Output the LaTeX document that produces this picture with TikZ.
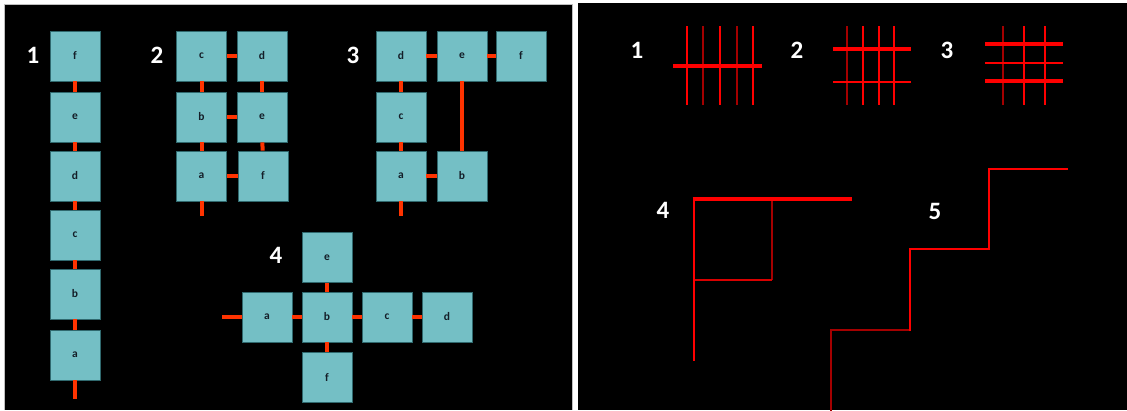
\documentclass[tikz,border=0pt]{standalone}
\usepackage{fontspec}
\setmainfont{Carlito}
\definecolor{tilefill}{RGB}{116,191,197}
\definecolor{tileedge}{RGB}{48,105,110}
\definecolor{tiletext}{RGB}{20,30,40}
\definecolor{linkred}{RGB}{255,51,0}
\definecolor{hotred}{RGB}{255,0,0}
\definecolor{dimred}{RGB}{165,0,0}
\definecolor{frame}{RGB}{190,190,190}
\begin{document}
\begin{tikzpicture}[x=1pt,y=-1pt,
  tile/.style={draw=tileedge, fill=tilefill, minimum size=50pt, inner sep=0pt,
    line width=0.8pt, text=tiletext, font=\fontsize{11.5}{11.5}\selectfont\bfseries},
  link/.style={draw=linkred, line width=4pt},
  num/.style={text=white, inner sep=0pt, font=\fontsize{25}{25}\selectfont\bfseries},
  hot/.style={draw=hotred, line width=2.4pt},
  hotthick/.style={draw=hotred, line width=3.4pt},
  dim/.style={draw=dimred, line width=2.4pt}]
\useasboundingbox (0,0) rectangle (1127,410);
% page and the two dark panels
\fill[white] (0,0) rectangle (1127,410);
\fill[black] (4.5,4) rectangle (572,410);
\draw[frame, line width=0.8pt] (4.5,410) -- (4.5,4) -- (572,4) -- (572,410);
\fill[black] (578,3) rectangle (1127,410);

% ---------- left panel: tile chains ----------
% chain 1
\node[num] (n1) at (33,55) {1};
\node[tile] (A1f) at (75,56) {f};
\node[tile] (A1e) at (75,117) {e};
\node[tile] (A1d) at (75,176) {d};
\node[tile] (A1c) at (75,235) {c};
\node[tile] (A1b) at (75,294) {b};
\node[tile] (A1a) at (75,355) {a};
\coordinate (A1end) at (75,399);
\draw[link] (A1f) -- (A1e);
\draw[link] (A1e) -- (A1d);
\draw[link] (A1d) -- (A1c);
\draw[link] (A1c) -- (A1b);
\draw[link] (A1b) -- (A1a);
\draw[link] (A1a) -- (A1end);

% chain 2
\node[num] (n2) at (157,55) {2};
\node[tile] (A2c) at (201.5,56) {c};
\node[tile] (A2d) at (262,56) {d};
\node[tile] (A2b) at (201.5,117) {b};
\node[tile] (A2e) at (262,117) {e};
\node[tile] (A2a) at (201.5,176) {a};
\node[tile] (A2f) at (263,176) {f};
\coordinate (A2end) at (201.5,216);
\draw[link] (A2c) -- (A2d);
\draw[link] (A2b) -- (A2e);
\draw[link] (A2a) -- (A2f);
\draw[link] (A2c) -- (A2b);
\draw[link] (A2b) -- (A2a);
\draw[link] (A2d) -- (A2e);
\draw[link] (A2e) -- (A2f);
\draw[link] (A2a) -- (A2end);

% chain 3
\node[num] (n3) at (353,55) {3};
\node[tile] (A3d) at (401,56) {d};
\node[tile] (A3e) at (462,56) {e};
\node[tile] (A3f) at (521,56) {f};
\node[tile] (A3c) at (401,117) {c};
\node[tile] (A3a) at (401,176) {a};
\node[tile] (A3b) at (462,176) {b};
\coordinate (A3end) at (401,216);
\draw[link] (A3d) -- (A3e);
\draw[link] (A3e) -- (A3f);
\draw[link] (A3d) -- (A3c);
\draw[link] (A3c) -- (A3a);
\draw[link] (A3a) -- (A3b);
\draw[link] (A3e) -- (A3b);
\draw[link] (A3a) -- (A3end);

% chain 4
\node[num] (n4) at (276,255) {4};
\node[tile] (A4e) at (327,257.5) {e};
\node[tile] (A4a) at (267,317) {a};
\node[tile] (A4b) at (327,317) {b};
\node[tile] (A4c) at (387,317) {c};
\node[tile] (A4d) at (447,317) {d};
\node[tile] (A4f) at (327,377) {f};
\coordinate (A4end) at (222,317);
\draw[link] (A4end) -- (A4a);
\draw[link] (A4a) -- (A4b);
\draw[link] (A4b) -- (A4c);
\draw[link] (A4c) -- (A4d);
\draw[link] (A4e) -- (A4b);
\draw[link] (A4b) -- (A4f);

% ---------- right panel: line figures ----------
% figure 1
\node[num] (m1) at (637,50) {1};
\draw[hot] (687,26) -- (687,105);
\draw[dim] (703,26) -- (703,105);
\draw[hot] (720,26) -- (720,105);
\draw[dim] (737,26) -- (737,105);
\draw[hot] (753,26) -- (753,105);
\draw[hotthick] (673,66) -- (762,66);

% figure 2
\node[num] (m2) at (797,50) {2};
\draw[dim] (847,26) -- (847,105);
\draw[hot] (863,26) -- (863,105);
\draw[hot] (879,26) -- (879,105);
\draw[hot] (894,26) -- (894,105);
\draw[hotthick] (833,49) -- (911,49);
\draw[hot] (833,82) -- (911,82);

% figure 3
\node[num] (m3) at (947,50) {3};
\draw[dim] (1003,26) -- (1003,105);
\draw[hot] (1024,26) -- (1024,105);
\draw[hot] (1045,26) -- (1045,105);
\draw[hotthick] (985,44) -- (1063,44);
\draw[hot] (985,63) -- (1063,63);
\draw[hotthick] (985,81) -- (1063,81);

% figure 4
\node[num] (m4) at (663,210) {4};
\draw[dim] (772,199) -- (772,280);
\draw[draw=red!85!black, line width=2.4pt] (694,280) -- (772,280);
\draw[hot, line width=2.6pt] (694,199) -- (694,361);
\draw[hotthick, line width=3.6pt] (692.7,199) -- (852,199);

% figure 5: staircase
\node[num] (m5) at (935,211) {5};
\draw[dim, line cap=rect] (831,410) -- (831,330) -- (910,330);
\draw[hot, line width=2.6pt, line join=miter] (910,331) -- (910,249) -- (989,249) -- (989,169) -- (1068,169);
\end{tikzpicture}
\end{document}
